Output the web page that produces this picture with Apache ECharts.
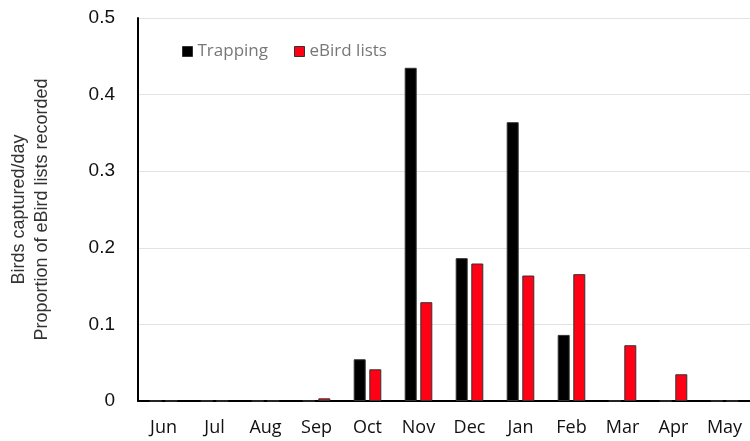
<!DOCTYPE html>
<html>
<head>
<meta charset="utf-8">
<script src="https://cdn.jsdelivr.net/npm/echarts@6/dist/echarts.min.js"></script>
<style>html,body{margin:0;padding:0;background:#fff;}#c{width:750px;height:441px;}</style>
</head>
<body>
<div id="c"></div>
<script>
var months = ['Jun','Jul','Aug','Sep','Oct','Nov','Dec','Jan','Feb','Mar','Apr','May'];
var trapping = [0, 0, 0, 0, 0.0545, 0.435, 0.1865, 0.364, 0.0863, 0, 0, 0];
var ebird = [0, 0, 0, 0.0035, 0.0414, 0.129, 0.1795, 0.1638, 0.1656, 0.0728, 0.0349, 0];
var yTicks = [0, 0.1, 0.2, 0.3, 0.4, 0.5];

var chart = echarts.init(document.getElementById('c'), null, {renderer: 'canvas'});
chart.setOption({
  animation: false,
  backgroundColor: '#fff',
  grid: {left: 133, right: -5, top: 18, bottom: 40},
  legend: {
    left: 177, top: 38,
    itemWidth: 10, itemHeight: 10, itemGap: 26,
    textStyle: {fontFamily: 'Open Sans', fontSize: 17, color: '#777'},
    data: [
      {name: 'Trapping', icon: 'rect', itemStyle: {color: '#000', borderColor: '#333', borderWidth: 1}},
      {name: 'eBird lists', icon: 'rect', itemStyle: {color: '#ff0014', borderColor: '#333', borderWidth: 1}}
    ]
  },
  xAxis: {
    type: 'category',
    data: months,
    axisLine: {lineStyle: {color: '#000', width: 2}},
    axisTick: {show: false},
    axisLabel: {fontFamily: 'Open Sans', fontSize: 18, color: '#111', margin: 18}
  },
  yAxis: {
    type: 'value',
    min: yTicks[0], max: yTicks[yTicks.length - 1], interval: 0.1,
    name: 'Birds captured/day\nProportion of eBird lists recorded',
    nameLocation: 'middle',
    nameGap: 84,
    nameTextStyle: {fontFamily: 'Liberation Sans', fontSize: 18, color: '#333', lineHeight: 23},
    axisLine: {show: true, lineStyle: {color: '#000', width: 2}},
    axisTick: {show: false},
    splitLine: {lineStyle: {color: '#e3e3e3', width: 1}},
    axisLabel: {fontFamily: 'Liberation Sans', fontSize: 19, color: '#111', margin: 23,
      formatter: function (v) { return String(Math.round(v * 10) / 10); }}
  },
  series: [
    {name: 'Trapping', type: 'bar', data: trapping, barWidth: 12, barGap: '30%',
     itemStyle: {color: '#000', borderColor: '#333', borderWidth: 1}},
    {name: 'eBird lists', type: 'bar', data: ebird, barWidth: 12, barGap: '30%',
     itemStyle: {color: '#ff0014', borderColor: '#333', borderWidth: 1}}
  ]
});
</script>
</body>
</html>
